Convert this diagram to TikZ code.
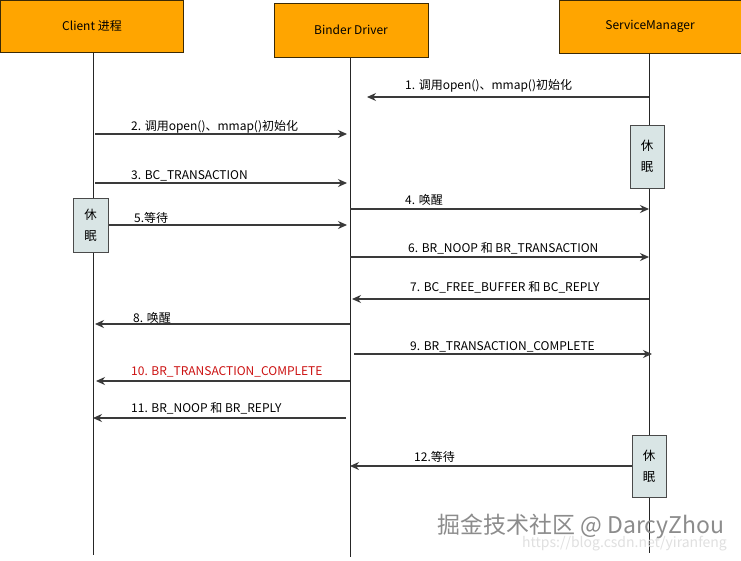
\documentclass[tikz,border=0pt]{standalone}
\usepackage{fontspec}
\setmainfont{Noto Sans CJK SC}
\usetikzlibrary{arrows.meta}
\definecolor{headfill}{HTML}{FFA500}
\definecolor{headline}{HTML}{3B2A05}
\definecolor{sleepfill}{HTML}{D9E5E5}
\definecolor{sleepline}{HTML}{4A4A4A}
\definecolor{msgline}{HTML}{3A3A3A}
\definecolor{msgred}{HTML}{CC1111}
\tikzset{
  head/.style={draw=headline, fill=headfill, line width=1pt, font=\fontsize{12}{14}\selectfont},
  sleepbox/.style={draw=sleepline, fill=sleepfill, line width=1pt, minimum width=34pt, minimum height=62pt, align=center, inner sep=0pt, font=\fontsize{12.5}{21}\selectfont},
  life/.style={line width=0.8pt, color=black!85},
  msg/.style={line width=1.2pt, color=msgline, -{Stealth[length=9pt,width=8pt]}},
  lbl/.style={anchor=west, inner sep=0pt, font=\fontsize{12}{14}\selectfont}
}

\begin{document}
\begin{tikzpicture}[x=1pt, y=-1pt]
			%%%%% START %%%%%
			\useasboundingbox[fill=white] (0,0) rectangle (741,560);
			
			\node[head, minimum width=183pt, minimum height=52pt] (client) at (92,26) {Client 进程};
			\node[head, minimum width=154pt, minimum height=54pt] (driver) at (351,30) {Binder Driver};
			\node[head, minimum width=182pt, minimum height=53pt] (sm) at (650,26.5) {ServiceManager};
			
			\coordinate (clientEnd) at (93,555);
			\coordinate (driverEnd) at (350,557);
			\coordinate (smEnd) at (649,553);
			\draw[life] (client.south -| clientEnd) -- (clientEnd);
			\draw[life] (driver.south -| driverEnd) -- (driverEnd);
			\draw[life] (sm.south -| smEnd) -- (smEnd);
			
			\node[sleepbox, minimum height=63pt] (smSleepA) at (647,156.5) {休\\眠};
			\node[sleepbox, minimum width=35pt, minimum height=54pt] (clientSleep) at (90.5,225) {休\\眠};
			\node[sleepbox] (smSleepB) at (649,466) {休\\眠};
			
			%%%%% MESSAGES %%%%%
			
			\coordinate (m1a) at (649,97);  \coordinate (m1b) at (367,97);
			\draw[msg] (m1a) -- (m1b);
			\node[lbl] (t1) at (405,86) {1. 调用open()、mmap()初始化};
			
			\coordinate (m2a) at (95,134);  \coordinate (m2b) at (347,134);
			\draw[msg] (m2a) -- (m2b);
			\node[lbl] (t2) at (131,127) {2. 调用open()、mmap()初始化};
			
			\coordinate (m3a) at (95,183);  \coordinate (m3b) at (347,183);
			\draw[msg] (m3a) -- (m3b);
			\node[lbl] (t3) at (131,176) {3. BC\_TRANSACTION};
			
			\coordinate (m4a) at (350,209); \coordinate (m4b) at (649,209);
			\draw[msg] (m4a) -- (m4b);
			\node[lbl] (t4) at (405,200) {4. 唤醒};
			
			\coordinate (m5b) at (347,225);
			\draw[msg] (clientSleep.east) -- (m5b);
			\node[lbl] (t5) at (134,218) {5.等待};
			
			\coordinate (m6a) at (350,257); \coordinate (m6b) at (649,257);
			\draw[msg] (m6a) -- (m6b);
			\node[lbl] (t6) at (408,248) {6. BR\_NOOP 和 BR\_TRANSACTION};
			
			\coordinate (m7a) at (649,299); \coordinate (m7b) at (352,299);
			\draw[msg] (m7a) -- (m7b);
			\node[lbl] (t7) at (410,287) {7. BC\_FREE\_BUFFER 和 BC\_REPLY};
			
			\coordinate (m8a) at (350,324); \coordinate (m8b) at (95,324);
			\draw[msg] (m8a) -- (m8b);
			\node[lbl] (t8) at (133,318) {8. 唤醒};
			
			\coordinate (m9a) at (354,354); \coordinate (m9b) at (652,354);
			\draw[msg] (m9a) -- (m9b);
			\node[lbl] (t9) at (410,347) {9. BR\_TRANSACTION\_COMPLETE};
			
			\coordinate (m10a) at (350,381); \coordinate (m10b) at (96,381);
			\draw[msg] (m10a) -- (m10b);
			\node[lbl, color=msgred] (t10) at (131,372) {10. BR\_TRANSACTION\_COMPLETE};
			
			\coordinate (m11a) at (346,418); \coordinate (m11b) at (93,418);
			\draw[msg] (m11a) -- (m11b);
			\node[lbl] (t11) at (131,408) {11. BR\_NOOP 和 BR\_REPLY};
			
			\coordinate (m12b) at (350,466);
			\draw[msg] (smSleepB.west) -- (m12b);
			\node[lbl] (t12) at (414,457) {12.等待};
			
			%%%%% WATERMARK %%%%%
			\node[anchor=west, inner sep=0pt, color=black!12, font=\fontsize{14}{16}\selectfont] (url) at (522,544) {https://blog.csdn.net/yiranfeng};
			\node[anchor=west, inner sep=0pt, color=black!45, font=\fontsize{23}{25}\selectfont] (mark) at (437,526) {掘金技术社区 @ DarcyZhou};
			
			%%%%% END %%%%%
		\end{tikzpicture}
\end{document}
